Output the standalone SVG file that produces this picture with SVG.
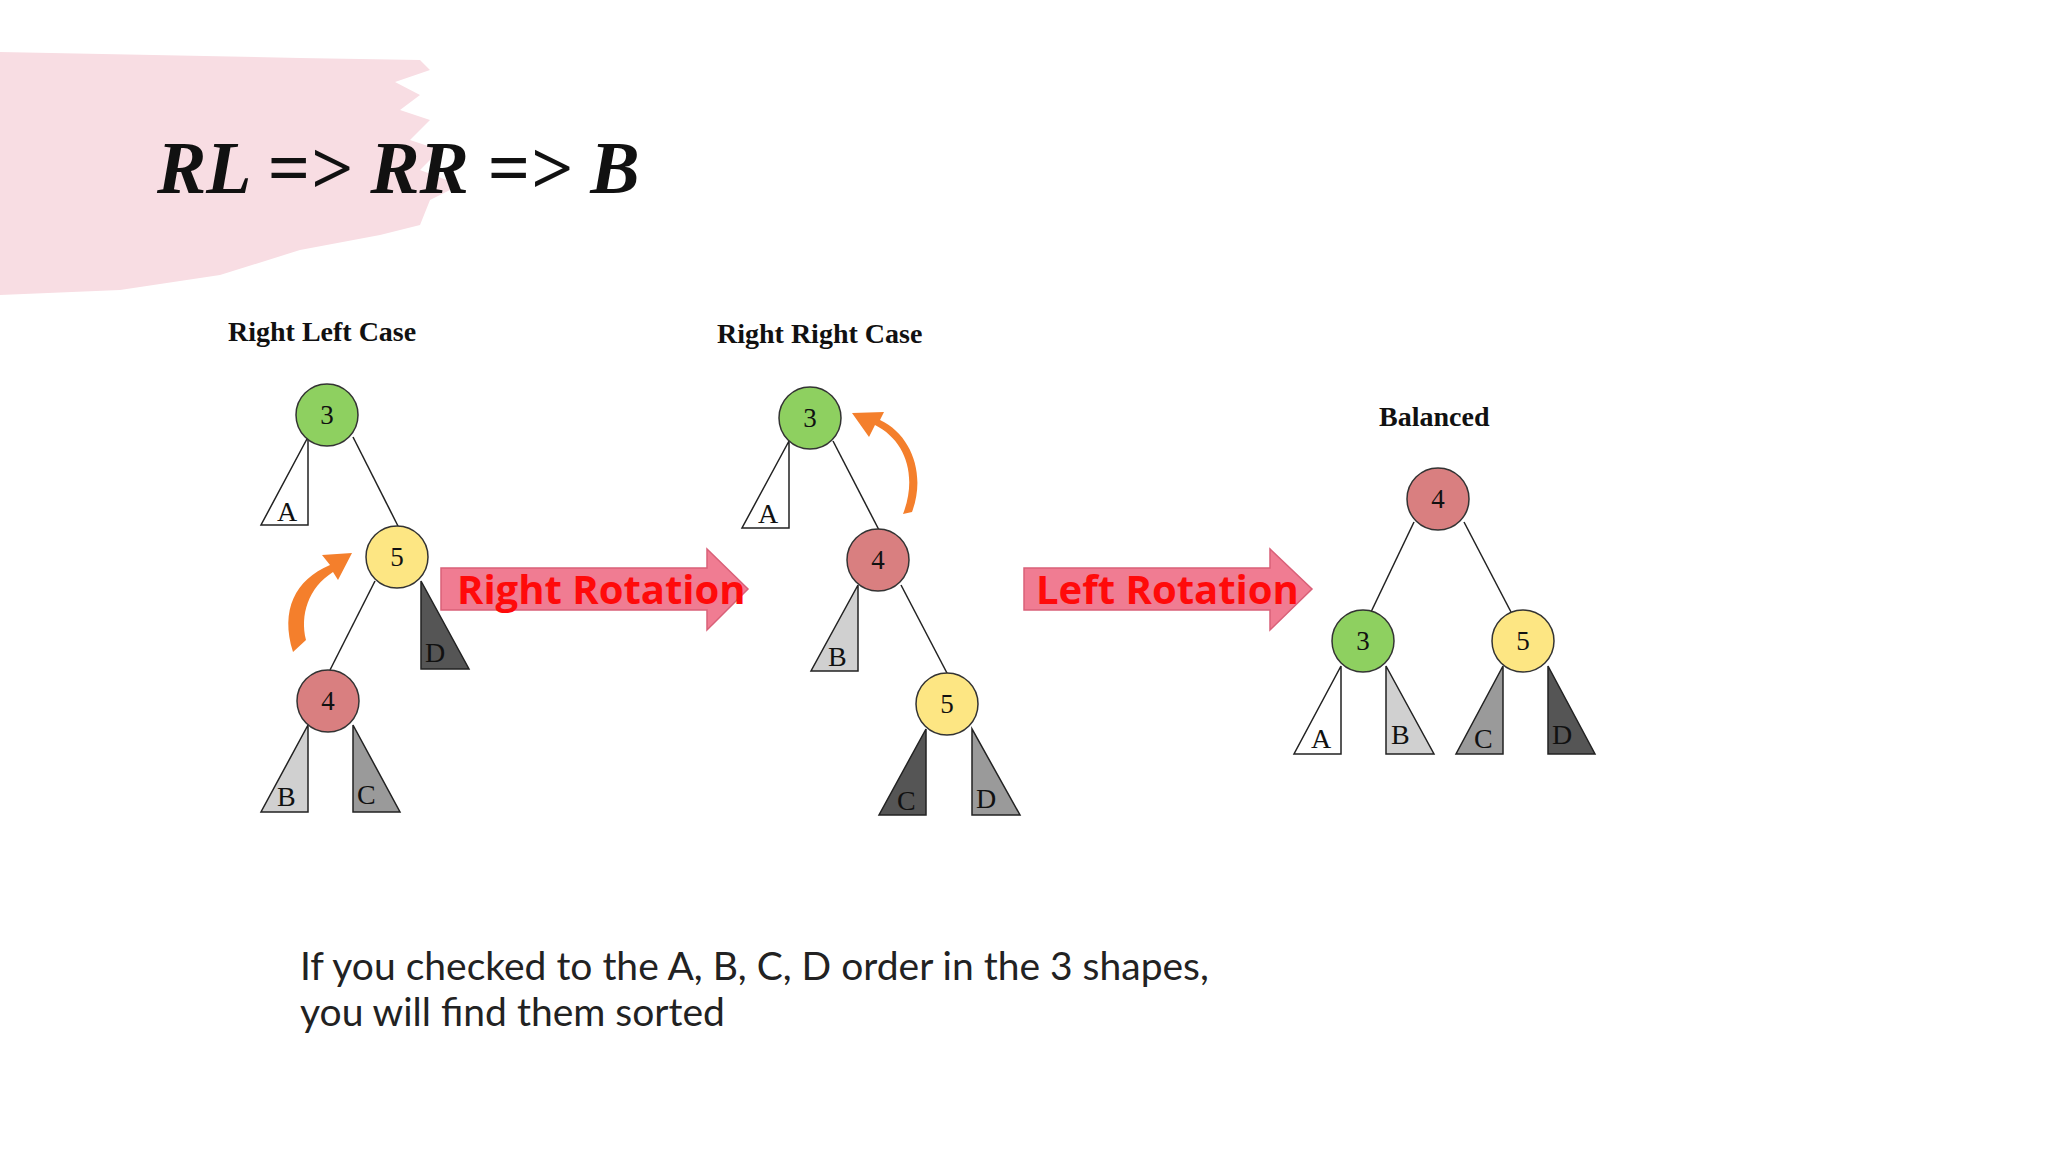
<svg xmlns="http://www.w3.org/2000/svg" width="2048" height="1152" viewBox="0 0 2048 1152">
<style>
.nd{stroke:#333;stroke-width:1.5}
.g{fill:#8ed060}.y{fill:#fde683}.r{fill:#d97f80}
.nl{font-family:"Liberation Serif",serif;font-size:27px;text-anchor:middle;fill:#111}
.tl{font-family:"Liberation Serif",serif;font-size:28px;fill:#111}
.tri{stroke:#222;stroke-width:1.5}
.w{fill:#fff}.l{fill:#d0d0d0}.m{fill:#9a9a9a}.d{fill:#555}
.cap{font-family:"Liberation Serif",serif;font-weight:bold;font-size:28px;fill:#111}
.edge{stroke:#222;stroke-width:1.5;fill:none}
.arrow{fill:#f07c92;stroke:#d96078;stroke-width:1.5}
.at{font-family:"Open Sans","Liberation Sans",sans-serif;font-weight:bold;font-size:40px;fill:#ff0a0a}
.orange{fill:#f47f2c}
</style>
<rect width="2048" height="1152" fill="#fff"/>
<path d="M0,52 L300,58 L420,60 L430,70 L395,82 L420,95 L400,110 L430,120 L410,140 L440,150 L420,170 L460,185 L430,200 L420,225 L380,235 L300,250 L220,275 L120,290 L0,295 Z" fill="#f8dde3"/>
<text x="157" y="193" font-family="Liberation Serif,serif" font-weight="bold" font-style="italic" font-size="74" fill="#111">RL =&gt; RR =&gt; B</text>

<g id="connectors">
<line class="edge" x1="353" y1="437" x2="398" y2="526"/>
<line class="edge" x1="375" y1="581" x2="330" y2="670"/>
<line class="edge" x1="833" y1="441" x2="879" y2="530"/>
<line class="edge" x1="901" y1="585" x2="948" y2="675"/>
<line class="edge" x1="1414" y1="522" x2="1371" y2="612"/>
<line class="edge" x1="1464" y1="522" x2="1511" y2="612"/>
</g>

<g id="tree1">
<text class="cap" x="228" y="341">Right Left Case</text>
<polygon class="tri w" points="261,525 308,525 308,437"/><text class="tl" x="277" y="521">A</text>
<polygon class="tri d" points="421,581 421,669 469,669"/><text class="tl" x="425" y="662">D</text>
<polygon class="tri l" points="261,812 308,812 308,725"/><text class="tl" x="277" y="806">B</text>
<polygon class="tri m" points="353,725 353,812 400,812"/><text class="tl" x="357" y="804">C</text>
<g id="t1n3"><circle class="nd g" cx="327" cy="415" r="31"/><text class="nl" x="327" y="424">3</text></g>
<g id="t1n5"><circle class="nd y" cx="397" cy="557" r="31"/><text class="nl" x="397" y="566">5</text></g>
<g id="t1n4"><circle class="nd r" cx="328" cy="701" r="31"/><text class="nl" x="328" y="710">4</text></g>
<path class="orange" d="M293,652 C280,610 295,580 330,565 L322,555 L352,553 L338,580 L333,572 C308,588 300,615 306,640 Z"/>
</g>

<g id="arrow1">
<polygon class="arrow" points="441,568 707,568 707,549 748,589 707,630 707,610 441,610"/>
<text class="at" x="457" y="604">Right Rotation</text>
</g>

<g id="tree2">
<text class="cap" x="717" y="343">Right Right Case</text>
<polygon class="tri w" points="742,528 789,528 789,441"/><text class="tl" x="758" y="523">A</text>
<polygon class="tri l" points="811,671 858,671 858,585"/><text class="tl" x="828" y="666">B</text>
<polygon class="tri d" points="879,815 926,815 926,729"/><text class="tl" x="897" y="810">C</text>
<polygon class="tri m" points="972,729 972,815 1020,815"/><text class="tl" x="976" y="808">D</text>
<g id="t2n3"><circle class="nd g" cx="810" cy="418" r="31"/><text class="nl" x="810" y="427">3</text></g>
<g id="t2n4"><circle class="nd r" cx="878" cy="560" r="31"/><text class="nl" x="878" y="569">4</text></g>
<g id="t2n5"><circle class="nd y" cx="947" cy="704" r="31"/><text class="nl" x="947" y="713">5</text></g>
<path class="orange" d="M903,514 C918,475 905,440 875,425 L869,437 L852,413 L884,412 L880,420 C912,435 926,475 912,512 Z"/>
</g>

<g id="arrow2">
<polygon class="arrow" points="1024,568 1270,568 1270,549 1312,589 1270,630 1270,610 1024,610"/>
<text class="at" x="1036" y="604">Left Rotation</text>
</g>

<g id="tree3">
<text class="cap" x="1379" y="426">Balanced</text>
<polygon class="tri w" points="1294,754 1341,754 1341,666"/><text class="tl" x="1311" y="748">A</text>
<polygon class="tri l" points="1386,666 1386,754 1434,754"/><text class="tl" x="1391" y="744">B</text>
<polygon class="tri m" points="1456,754 1503,754 1503,666"/><text class="tl" x="1474" y="748">C</text>
<polygon class="tri d" points="1548,666 1548,754 1595,754"/><text class="tl" x="1552" y="744">D</text>
<g id="t3n4"><circle class="nd r" cx="1438" cy="499" r="31"/><text class="nl" x="1438" y="508">4</text></g>
<g id="t3n3"><circle class="nd g" cx="1363" cy="641" r="31"/><text class="nl" x="1363" y="650">3</text></g>
<g id="t3n5"><circle class="nd y" cx="1523" cy="641" r="31"/><text class="nl" x="1523" y="650">5</text></g>
</g>

<g font-family="Lato,'Open Sans',sans-serif" font-size="39" fill="#222">
<text x="300" y="980">If you checked to the A, B, C, D order in the 3 shapes,</text>
<text x="300" y="1026">you will find them sorted</text>
</g>
</svg>
